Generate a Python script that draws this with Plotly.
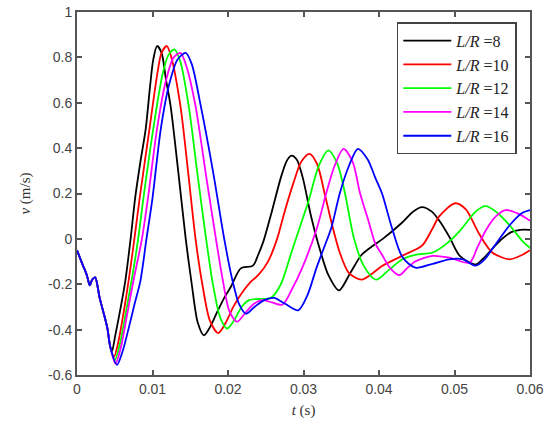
import plotly.graph_objects as go

# Common initial segment (all curves overlap here)
t_common = [0.0, 0.0007, 0.0013, 0.0017, 0.0020, 0.0024, 0.0030, 0.0040, 0.0044]
v_common = [-0.05, -0.11, -0.16, -0.205, -0.18, -0.17, -0.26, -0.39, -0.475]

t_8 = [0.0046, 0.0051, 0.0058, 0.0064, 0.0071, 0.0077, 0.0084, 0.0091, 0.0097, 0.0101, 0.0106,
       0.0112, 0.0118, 0.0124, 0.0134, 0.0144, 0.0152, 0.0160, 0.0168, 0.0176, 0.0186, 0.0195,
       0.0204, 0.0217, 0.0233, 0.0240, 0.0247, 0.0258, 0.0270, 0.0278, 0.0284, 0.0291, 0.0299,
       0.0310, 0.0322, 0.0333, 0.0347, 0.0362, 0.0377, 0.0392, 0.0405, 0.0430, 0.0445, 0.0457,
       0.0470, 0.0480, 0.0493, 0.0507, 0.0528, 0.0540, 0.0551, 0.0563, 0.0575, 0.0587, 0.0600]
v_8 = [-0.50, -0.42, -0.30, -0.185, 0.0, 0.18, 0.34, 0.485, 0.68, 0.79, 0.85,
       0.82, 0.70, 0.585, 0.30, 0.0, -0.20, -0.37, -0.425, -0.39, -0.32, -0.26,
       -0.21, -0.13, -0.118, -0.07, -0.01, 0.12, 0.27, 0.345, 0.367, 0.35, 0.27,
       0.10, -0.05, -0.16, -0.227, -0.15, -0.07, -0.03, 0.0, 0.07, 0.12, 0.14,
       0.12, 0.08, 0.01, -0.075, -0.113, -0.08, -0.04, 0.0, 0.03, 0.04, 0.04]

t_10 = [0.0049, 0.0055, 0.0062, 0.0069, 0.0076, 0.0083, 0.0096, 0.0106, 0.0112, 0.0119,
        0.0125, 0.0137, 0.0147, 0.0157, 0.0166, 0.0176, 0.0187, 0.0197, 0.0207, 0.0217,
        0.0230, 0.0240, 0.0253, 0.0265, 0.0275, 0.0287, 0.0297, 0.0308, 0.0318, 0.0328,
        0.0338, 0.0348, 0.0360, 0.0377, 0.0392, 0.0404, 0.0431, 0.0457, 0.0470, 0.0480,
        0.0501, 0.0515, 0.0533, 0.0550, 0.0573, 0.0590, 0.0600]
v_10 = [-0.52, -0.45, -0.32, -0.17, 0.0, 0.18, 0.485, 0.72, 0.82, 0.85,
        0.80, 0.585, 0.30, 0.0, -0.20, -0.36, -0.415, -0.37, -0.30, -0.245,
        -0.19, -0.16, -0.10, 0.0, 0.12, 0.25, 0.34, 0.375, 0.33, 0.20,
        0.06, -0.06, -0.15, -0.18, -0.15, -0.12, -0.074, -0.03, 0.04, 0.10,
        0.157, 0.13, 0.02, -0.06, -0.09, -0.07, -0.05]

t_12 = [0.0050, 0.0057, 0.0065, 0.0073, 0.0081, 0.0088, 0.0101, 0.0113, 0.0121, 0.0129,
        0.0137, 0.0148, 0.0159, 0.0171, 0.0180, 0.0190, 0.0199, 0.0208, 0.0218, 0.0228,
        0.0240, 0.0257, 0.0270, 0.0284, 0.0295, 0.0307, 0.0320, 0.0333, 0.0345, 0.0355,
        0.0367, 0.0380, 0.0396, 0.0412, 0.0431, 0.0448, 0.0471, 0.0490, 0.0507, 0.0528,
        0.0541, 0.0555, 0.0573, 0.0590, 0.0600]
v_12 = [-0.535, -0.46, -0.32, -0.17, 0.0, 0.18, 0.485, 0.72, 0.81, 0.835,
        0.78, 0.585, 0.30, 0.0, -0.20, -0.35, -0.395, -0.36, -0.30, -0.27,
        -0.265, -0.26, -0.20, -0.06, 0.05, 0.17, 0.32, 0.39, 0.33, 0.20,
        0.0, -0.12, -0.18, -0.14, -0.09, -0.07, -0.06, -0.02, 0.035, 0.12,
        0.144, 0.12, 0.06, -0.01, -0.04]

t_14 = [0.0051, 0.0058, 0.0066, 0.0075, 0.0086, 0.0094, 0.0106, 0.0118, 0.0128, 0.0137,
        0.0145, 0.0157, 0.0170, 0.0184, 0.0193, 0.0202, 0.0212, 0.0222, 0.0233, 0.0245,
        0.0258, 0.0272, 0.0285, 0.0298, 0.0318, 0.0330, 0.0341, 0.0353, 0.0365, 0.0375,
        0.0386, 0.0395, 0.0404, 0.0415, 0.0427, 0.0437, 0.0448, 0.0471, 0.0493, 0.0520,
        0.0530, 0.0541, 0.0555, 0.0568, 0.0585, 0.0600]
v_14 = [-0.55, -0.48, -0.34, -0.18, 0.0, 0.18, 0.485, 0.70, 0.80, 0.82,
        0.76, 0.585, 0.30, 0.0, -0.18, -0.32, -0.365, -0.33, -0.29, -0.27,
        -0.28, -0.29, -0.22, -0.13, 0.05, 0.20, 0.32, 0.397, 0.34, 0.20,
        0.08, -0.02, -0.07, -0.13, -0.16, -0.13, -0.10, -0.075, -0.083, -0.105,
        -0.04, 0.035, 0.10, 0.127, 0.11, 0.08]

t_16 = [0.0053, 0.0060, 0.0068, 0.0076, 0.0084, 0.0092, 0.0100, 0.0111, 0.0122, 0.0133,
        0.0144, 0.0152, 0.0164, 0.0180, 0.0195, 0.0205, 0.0215, 0.0224, 0.0235, 0.0248,
        0.0261, 0.0275, 0.0293, 0.0305, 0.0317, 0.0327, 0.0337, 0.0348, 0.0360, 0.0372,
        0.0385, 0.0395, 0.0404, 0.0417, 0.0431, 0.0448, 0.0471, 0.0493, 0.0511, 0.0528,
        0.0540, 0.0551, 0.0573, 0.0590, 0.0600]
v_16 = [-0.555, -0.50, -0.40, -0.29, -0.185, 0.0, 0.18, 0.485, 0.68, 0.79,
        0.82, 0.77, 0.585, 0.30, 0.0, -0.17, -0.29, -0.33, -0.30, -0.27,
        -0.26, -0.285, -0.315, -0.25, -0.13, -0.04, 0.05, 0.20, 0.32, 0.397,
        0.35, 0.27, 0.20, 0.05, -0.08, -0.127, -0.11, -0.09, -0.09, -0.118,
        -0.09, -0.04, 0.06, 0.115, 0.127]

series_names = ["<i>L/R</i> =8", "<i>L/R</i> =10", "<i>L/R</i> =12", "<i>L/R</i> =14", "<i>L/R</i> =16"]
series_t = [t_8, t_10, t_12, t_14, t_16]
series_v = [v_8, v_10, v_12, v_14, v_16]
colors = ["#000000", "#ff0000", "#00ff00", "#ff00ff", "#0000ff"]

x_ticks = [0, 0.01, 0.02, 0.03, 0.04, 0.05, 0.06]
x_tick_text = ["0", "0.01", "0.02", "0.03", "0.04", "0.05", "0.06"]
y_ticks = [-0.6, -0.4, -0.2, 0, 0.2, 0.4, 0.6, 0.8, 1]
y_tick_text = ["-0.6", "-0.4", "-0.2", "0", "0.2", "0.4", "0.6", "0.8", "1"]

fig = go.Figure()
for name, tt, vv, c in zip(series_names, series_t, series_v, colors):
    fig.add_trace(go.Scatter(
        x=t_common + tt, y=v_common + vv, mode="lines", name=name,
        line=dict(color=c, width=1.8, shape="spline", smoothing=0.8),
    ))

axis_common = dict(
    showgrid=False, zeroline=False, showline=True, linecolor="#555555", linewidth=2,
    mirror="ticks", ticks="inside", ticklen=5, tickcolor="#555555", tickwidth=1.5,
    automargin=False, ticklabeloverflow="allow",
    tickfont=dict(family="Liberation Sans", size=14, color="#444444"),
)

fig.update_layout(
    width=553, height=437,
    margin=dict(l=77, r=23, t=12, b=62),
    paper_bgcolor="white", plot_bgcolor="white",
    xaxis=dict(range=[0, 0.06], tickvals=x_ticks, ticktext=x_tick_text,
               title=dict(text="<i>t</i> (s)", standoff=9,
                          font=dict(family="Liberation Serif", size=15, color="#333333")),
               **axis_common),
    yaxis=dict(range=[-0.6, 1], tickvals=y_ticks, ticktext=y_tick_text,
               title=dict(text="<i>v</i> (m/s)", standoff=14,
                          font=dict(family="Liberation Serif", size=15, color="#333333")),
               **axis_common),
    legend=dict(x=0.706, y=0.972, xanchor="left", yanchor="top",
                bordercolor="#444444", borderwidth=1.5, bgcolor="white",
                font=dict(family="Liberation Serif", size=16, color="#222222"),
                itemwidth=48, tracegroupgap=0),
    showlegend=True,
)

# remove the default 8px page margin so the figure sits at the window origin
fig.write_html("out.html", config={"displayModeBar": False},
               post_script="document.body.style.margin='0';")
